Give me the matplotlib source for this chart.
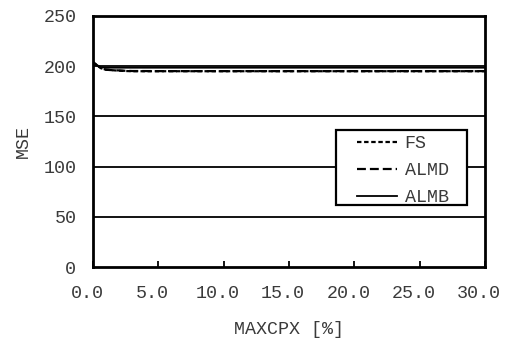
import matplotlib
matplotlib.use("Agg")
import matplotlib.pyplot as plt
from matplotlib.transforms import ScaledTranslation
from matplotlib.patches import Rectangle

x = [0.0, 0.3, 0.6, 1.0, 1.5, 2.0, 2.5, 3.0, 5.0, 10.0, 15.0, 20.0, 25.0, 30.0]
fs = [204.0, 201.0, 198.0, 196.5, 196.0, 195.5, 195.2, 195.0, 195.0, 195.0, 195.0, 195.0, 195.0, 195.0]
almd = [204.0, 201.0, 198.0, 196.5, 196.0, 195.8, 195.4, 195.2, 195.1, 195.1, 195.1, 195.1, 195.1, 195.1]
almb = [204.0, 201.0, 199.0, 198.5, 198.5, 198.5, 198.5, 198.5, 198.5, 198.5, 198.5, 198.5, 198.5, 198.5]
xticks = [0, 5, 10, 15, 20, 25, 30]
xticklabels = ["0.0", "5.0", "10.0", "15.0", "20.0", "25.0", "30.0"]
yticks = [0, 50, 100, 150, 200, 250]

font = "Liberation Mono"
plt.rcParams["font.family"] = [font, "DejaVu Sans"]
FS_ = 13.2
TC = "#3a3a3a"

fig = plt.figure(figsize=(5.13, 3.39), dpi=100)
ax = fig.add_axes([93/513, 1-267/339, (485-93)/513, (267-16)/339])

for yv in [50, 100, 150, 200]:
    ax.axhline(yv, color="black", lw=1.3, zorder=1)

ax.plot(x, fs, color="black", lw=1.6, ls=(0, (2, 1.2)), label="FS", zorder=3)
ax.plot(x, almd, color="black", lw=1.6, ls=(0, (4, 1.8)), label="ALMD", zorder=3)
ax.plot(x, almb, color="black", lw=1.3, ls="-", label="ALMB", zorder=3)

ax.set_xlim(0, 30)
ax.set_ylim(0, 250)
ax.set_xticks(xticks)
ax.set_xticklabels(xticklabels)
ax.set_yticks(yticks)
ax.tick_params(axis="x", direction="in", length=4, width=1.3, labelsize=FS_, pad=13, colors="black", labelcolor=TC)
ax.tick_params(axis="y", length=0, labelsize=FS_, pad=12, labelcolor=TC)
for lbl in ax.get_xticklabels():
    lbl.set_transform(lbl.get_transform() + ScaledTranslation(-6/100, 0, fig.dpi_scale_trans))
for s in ax.spines.values():
    s.set_linewidth(2)
    s.set_color("black")

ax.set_xlabel("MAXCPX [%]", fontsize=FS_, color=TC, labelpad=14)
ax.set_ylabel("MSE", fontsize=FS_, color=TC, labelpad=8)

# legend frame
x0, x1 = (336-93)/392, (467-93)/392
yb, yt = (267-205)/251, (267-130)/251
ax.add_patch(Rectangle((x0, yb), x1-x0, yt-yb, transform=ax.transAxes,
                       facecolor="white", edgecolor="black", lw=1.6, zorder=5))
leg = ax.legend(loc="upper left", bbox_to_anchor=((357-93)/392, (267-135)/251),
                frameon=False, fontsize=FS_, handlelength=2.2,
                handletextpad=0.4, borderpad=0, labelspacing=0.55, borderaxespad=0)
leg.set_zorder(6)
for t in leg.get_texts():
    t.set_color(TC)

fig.savefig("out.png", dpi=100)
